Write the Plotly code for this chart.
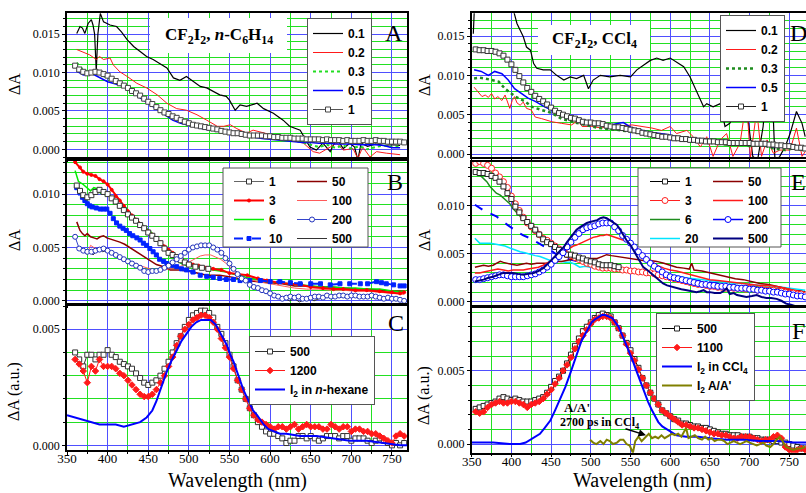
import plotly.graph_objects as go

W, H = 806, 493
def px(x): return x / W
def py(y): return 1 - y / H

# ---------------- DATA (wavelength nm, delta A) ----------------
# Panel A : CF2I2 in n-C6H14, early delays (ps)
A_01 = [(362,0.0151),(366,0.0160),(369,0.0158),(372,0.0151),(376,0.0164),(380,0.0169),(382,0.0162),(384,0.0150),(386,0.0102),(388,0.0150),(391,0.0177),(395,0.0166),(403,0.0162),(411,0.0160),(417,0.0153),(424,0.0143),(432,0.0134),(440,0.0127),(448,0.0121),(456,0.0117),(464,0.0112),(473,0.0106),(481,0.0093),(489,0.0090),(497,0.0095),(506,0.0088),(514,0.0082),(522,0.0080),(530,0.0075),(538,0.0071),(546,0.0069),(550,0.0064),(557,0.0051),(563,0.0058),(571,0.0056),(584,0.0060),(592,0.0053),(604,0.0047),(616,0.0038),(624,0.0030),(637,0.0025),(641,0.0017),(649,0.0003),(657,-0.0001),(665,0.0008),(674,-0.0003),(682,0.0014),(690,0.0001),(698,0.0008),(704,0.0003),(708,-0.0014),(712,0.0008),(720,0.0004),(730,0.0007),(740,0.0005),(750,0.0006),(760,0.0005)]
A_02 = [(362,0.0130),(369,0.0127),(378,0.0123),(386,0.0117),(390,0.0121),(395,0.0117),(403,0.0119),(407,0.0110),(415,0.0101),(424,0.0095),(436,0.0086),(448,0.0080),(461,0.0071),(473,0.0060),(485,0.0053),(497,0.0051),(510,0.0045),(522,0.0038),(535,0.0030),(543,0.0030),(551,0.0032),(559,0.0027),(571,0.0021),(579,0.0025),(590,0.0022),(604,0.0019),(616,0.0015),(629,0.0012),(641,0.0008),(653,-0.0003),(661,-0.0005),(674,0.0003),(682,0.0008),(690,-0.0001),(702,0.0001),(708,-0.0012),(714,0.0003),(723,-0.0010),(731,-0.0003),(743,-0.0005),(760,-0.0007)]
A_03 = [(362,0.0113),(370,0.0103),(380,0.0101),(390,0.0098),(400,0.0093),(410,0.0089),(420,0.0085),(430,0.0078),(440,0.0071),(450,0.0063),(460,0.0055),(470,0.0047),(480,0.0042),(490,0.0037),(500,0.0033),(510,0.0030),(520,0.0028),(530,0.0026),(540,0.0024),(550,0.0022),(560,0.0020),(570,0.0019),(580,0.0017),(590,0.0016),(600,0.0015),(610,0.0014),(620,0.0012),(630,0.0011),(640,0.0009),(650,0.0006),(660,0.0003),(670,0.0006),(680,0.0002),(690,0.0005),(700,0.0001),(710,0.0004),(720,0.0000),(730,0.0003),(740,0.0005),(750,0.0003),(760,0.0004)]
A_05 = [(362,0.0102),(370,0.0097),(380,0.0099),(390,0.0093),(400,0.0088),(410,0.0085),(420,0.0082),(430,0.0076),(440,0.0067),(450,0.0060),(460,0.0053),(470,0.0045),(480,0.0038),(490,0.0034),(500,0.0031),(510,0.0028),(520,0.0026),(530,0.0025),(540,0.0023),(550,0.0021),(560,0.0019),(570,0.0017),(580,0.0015),(590,0.0014),(600,0.0013),(610,0.0012),(620,0.0011),(630,0.0010),(640,0.0009),(650,0.0009),(660,0.0008),(670,0.0008),(680,0.0007),(690,0.0007),(700,0.0007),(710,0.0006),(720,0.0006),(730,0.0006),(740,0.0005),(750,0.0002),(760,0.0002)]
A_1_start = 360
A_1 = [0.0109,0.0104,0.0101,0.0099,0.0100,0.0101,0.0100,0.0098,0.0096,0.0092,0.0089,0.0086,0.0083,0.0080,0.0076,0.0073,0.0070,0.0066,0.0062,0.0059,0.0055,0.0051,0.0048,0.0046,0.0043,0.0041,0.0038,0.0036,0.0034,0.0032,0.0031,0.0030,0.0029,0.0028,0.0027,0.0026,0.0024,0.0023,0.0022,0.0021,0.0021,0.0020,0.0019,0.0018,0.0018,0.0018,0.0018,0.0017,0.0017,0.0016,0.0016,0.0015,0.0015,0.0015,0.0014,0.0014,0.0014,0.0013,0.0013,0.0013,0.0013,0.0012,0.0013,0.0012,0.0012,0.0012,0.0011,0.0012,0.0011,0.0011,0.0011,0.0012,0.0011,0.0011,0.0012,0.0011,0.0011,0.0010,0.0010,0.0010,0.0010,0.0009]

# Panel B : n-C6H14, 1-500 ps
B_1 = [(362,0.0108),(366,0.0103),(370,0.0099),(375,0.0097),(380,0.0099),(385,0.0102),(390,0.0104),(395,0.0102),(400,0.0100),(405,0.0096),(410,0.0093),(415,0.0089),(420,0.0085),(425,0.0081),(430,0.0078),(435,0.0075),(440,0.0071),(445,0.0068),(450,0.0064),(455,0.0061),(460,0.0058),(465,0.0054),(470,0.0049),(475,0.0045),(480,0.0043),(485,0.0041),(490,0.0038),(495,0.0036),(500,0.0034),(508,0.0032),(516,0.0031),(524,0.0030)]
B_3 = [(360,0.0130),(366,0.0125),(370,0.0121),(375,0.0119),(380,0.0118),(385,0.0117),(390,0.0114),(395,0.0112),(400,0.0109),(405,0.0104),(410,0.0098),(415,0.0094),(420,0.0089),(425,0.0084),(430,0.0080),(435,0.0076),(440,0.0072),(445,0.0068),(450,0.0065),(455,0.0062),(460,0.0058),(465,0.0055),(470,0.0051),(475,0.0048),(480,0.0045),(485,0.0042),(490,0.0040),(497,0.0036),(505,0.0034),(512,0.0033),(520,0.0031),(530,0.0030),(540,0.0029),(550,0.0026),(560,0.0025),(572,0.0024),(585,0.0021),(596,0.0019),(610,0.0017),(625,0.0016),(637,0.0015),(650,0.0013),(665,0.0012),(678,0.0011),(690,0.0011),(705,0.0010),(719,0.0010),(735,0.0009),(750,0.0008),(760,0.0007),(765,0.0008)]
B_6 = [(360,0.0122),(364,0.0112),(370,0.0109),(375,0.0106),(379,0.0103),(383,0.0106),(387,0.0105),(391,0.0101),(395,0.0100),(399,0.0099),(403,0.0098),(407,0.0095),(411,0.0091),(415,0.0089),(420,0.0086),(425,0.0082),(430,0.0079),(436,0.0076),(442,0.0072),(448,0.0068),(454,0.0064),(460,0.0059),(466,0.0053),(472,0.0047),(478,0.0042),(485,0.0038),(491,0.0035),(497,0.0033),(505,0.0032),(514,0.0032),(522,0.0030),(530,0.0029),(538,0.0028),(546,0.0027),(555,0.0025),(563,0.0024),(571,0.0022),(584,0.0020),(596,0.0018),(610,0.0017),(625,0.0016),(637,0.0015),(650,0.0014),(665,0.0013),(678,0.0013),(690,0.0012),(705,0.0012),(719,0.0011),(735,0.0011),(750,0.0009),(760,0.0008),(765,0.0009)]
B_10 = [(362,0.0106),(366,0.0101),(369,0.0097),(372,0.0094),(375,0.0091),(378,0.0089),(381,0.0088),(386,0.0087),(391,0.0086),(395,0.0086),(399,0.0086),(403,0.0082),(407,0.0077),(411,0.0073),(415,0.0070),(419,0.0068),(423,0.0066),(427,0.0063),(431,0.0061),(436,0.0059),(440,0.0057),(444,0.0054),(448,0.0052),(452,0.0049),(456,0.0046),(460,0.0043),(464,0.0039),(469,0.0037),(473,0.0035),(479,0.0033),(485,0.0032),(491,0.0030),(497,0.0029),(505,0.0027),(514,0.0024),(522,0.0023),(530,0.0022),(538,0.0021),(546,0.0020),(555,0.0020),(563,0.0019),(575,0.0019),(588,0.0019),(600,0.0018),(612,0.0018),(625,0.0017),(637,0.0016),(650,0.0016),(662,0.0016),(674,0.0015),(686,0.0016),(698,0.0016),(711,0.0016),(720,0.0016),(731,0.0018),(737,0.0017),(743,0.0016),(752,0.0015),(760,0.0014),(765,0.0014)]
B_50 = [(362,0.0074),(364,0.0069),(366,0.0066),(369,0.0063),(372,0.0061),(375,0.0063),(379,0.0060),(383,0.0059),(387,0.0058),(391,0.0060),(395,0.0061),(399,0.0059),(403,0.0058),(409,0.0057),(415,0.0055),(421,0.0053),(427,0.0050),(434,0.0047),(440,0.0044),(446,0.0041),(452,0.0038),(460,0.0034),(469,0.0032),(477,0.0029),(489,0.0029),(505,0.0027),(522,0.0024),(538,0.0024),(555,0.0022),(571,0.0019),(585,0.0018),(600,0.0017),(615,0.0016),(630,0.0014),(645,0.0014),(660,0.0013),(675,0.0013),(690,0.0012),(705,0.0011),(720,0.0011),(735,0.0010),(750,0.0009),(765,0.0009)]
B_100 = [(362,0.0050),(370,0.0048),(376,0.0046),(379,0.0052),(383,0.0050),(390,0.0048),(398,0.0047),(405,0.0044),(412,0.0042),(420,0.0040),(428,0.0037),(436,0.0034),(444,0.0032),(452,0.0030),(460,0.0029),(468,0.0029),(476,0.0030),(484,0.0031),(492,0.0033),(500,0.0036),(506,0.0039),(514,0.0042),(520,0.0043),(527,0.0043),(533,0.0041),(539,0.0039),(546,0.0035),(552,0.0031),(558,0.0027),(565,0.0024),(572,0.0021),(585,0.0018),(600,0.0016),(615,0.0014),(630,0.0012),(645,0.0011),(660,0.0011),(675,0.0010),(690,0.0010),(705,0.0009),(720,0.0009),(735,0.0008),(750,0.0007),(765,0.0006)]
B_200_start = 360
B_200 = [0.0060,0.0049,0.0047,0.0046,0.0046,0.0047,0.0048,0.0049,0.0047,0.0045,0.0043,0.0041,0.0039,0.0037,0.0035,0.0033,0.0031,0.0028,0.0027,0.0028,0.0028,0.0029,0.0031,0.0033,0.0036,0.0039,0.0042,0.0045,0.0048,0.0050,0.0051,0.0052,0.0052,0.0052,0.0050,0.0048,0.0045,0.0040,0.0035,0.0030,0.0025,0.0021,0.0019,0.0015,0.0013,0.0012,0.0010,0.0009,0.0007,0.0005,0.0004,0.0002,0.0003,0.0004,0.0003,0.0004,0.0002,0.0002,0.0003,0.0004,0.0004,0.0003,0.0005,0.0004,0.0004,0.0005,0.0005,0.0004,0.0005,0.0005,0.0004,0.0004,0.0004,0.0005,0.0004,0.0003,0.0002,0.0003,0.0002,0.0002,0.0001,0.0000]
B_500 = [(362,0.0050),(366,0.0048),(370,0.0046),(374,0.0044),(378,0.0047),(382,0.0043),(386,0.0046),(390,0.0048),(394,0.0046),(398,0.0047),(403,0.0045),(408,0.0043),(414,0.0041),(420,0.0038),(426,0.0036),(432,0.0034),(438,0.0031),(444,0.0029),(450,0.0027),(456,0.0027),(462,0.0028),(468,0.0030),(474,0.0033),(480,0.0036),(486,0.0039),(492,0.0043),(498,0.0046),(504,0.0049),(510,0.0051),(516,0.0052),(522,0.0051),(528,0.0050),(534,0.0048),(540,0.0045),(546,0.0041),(552,0.0033),(558,0.0028),(564,0.0023),(570,0.0019),(576,0.0015),(582,0.0012),(588,0.0011),(594,0.0008),(600,0.0007),(606,0.0005),(612,0.0004),(618,0.0002),(624,0.0000),(630,0.0002),(636,-0.0001),(642,0.0001),(648,0.0003),(654,0.0000),(660,0.0002),(668,0.0003),(676,0.0004),(684,0.0005),(692,0.0004),(700,0.0005),(710,0.0004),(720,0.0004),(730,0.0004),(740,0.0003),(750,0.0002),(760,0.0001),(765,0.0001)]

# Panel C : n-C6H14, long delays + I2 reference
C_500_start = 360
C_500 = [0.0040,0.0037,0.0034,0.0039,0.0039,0.0037,0.0039,0.0039,0.0041,0.0039,0.0038,0.0036,0.0035,0.0034,0.0033,0.0031,0.0029,0.0027,0.0026,0.0027,0.0028,0.0030,0.0033,0.0036,0.0040,0.0044,0.0047,0.0051,0.0054,0.0056,0.0057,0.0058,0.0058,0.0057,0.0055,0.0051,0.0048,0.0044,0.0039,0.0034,0.0028,0.0024,0.0020,0.0016,0.0013,0.0010,0.0008,0.0006,0.0005,0.0005,0.0004,0.0003,0.0001,0.0002,0.0002,0.0004,0.0004,0.0003,0.0004,0.0003,0.0002,0.0003,0.0004,0.0004,0.0004,0.0003,0.0004,0.0004,0.0002,0.0003,0.0003,0.0003,0.0002,0.0001,0.0002,0.0003,0.0002,0.0001,0.0000,0.0001,0.0000,0.0001]
C_1200_start = 360
C_1200 = [0.0037,0.0035,0.0032,0.0027,0.0034,0.0032,0.0037,0.0034,0.0034,0.0034,0.0033,0.0031,0.0030,0.0028,0.0026,0.0024,0.0022,0.0021,0.0021,0.0022,0.0024,0.0027,0.0030,0.0034,0.0038,0.0043,0.0047,0.0050,0.0052,0.0054,0.0055,0.0056,0.0056,0.0055,0.0053,0.0050,0.0046,0.0042,0.0038,0.0033,0.0028,0.0024,0.0020,0.0016,0.0013,0.0011,0.0010,0.0009,0.0008,0.0007,0.0008,0.0008,0.0007,0.0008,0.0009,0.0007,0.0008,0.0009,0.0008,0.0008,0.0008,0.0007,0.0007,0.0009,0.0008,0.0007,0.0008,0.0008,0.0006,0.0007,0.0007,0.0006,0.0006,0.0005,0.0005,0.0004,0.0003,0.0002,0.0001,0.0004,0.0005,0.0004]
C_I2 = [(350,0.0013),(360,0.0012),(370,0.0011),(380,0.0010),(390,0.0009),(400,0.0009),(410,0.0009),(420,0.0008),(430,0.0009),(440,0.0010),(448,0.0012),(455,0.0015),(460,0.0019),(466,0.0025),(472,0.0031),(478,0.0036),(485,0.0041),(491,0.0045),(497,0.0048),(503,0.0051),(509,0.0053),(515,0.0054),(521,0.0054),(527,0.0054),(533,0.0052),(538,0.0049),(543,0.0046),(547,0.0043),(551,0.0039),(555,0.0036),(559,0.0032),(563,0.0028),(567,0.0024),(571,0.0021),(575,0.0018),(579,0.0015),(584,0.0013),(588,0.0011),(592,0.0009),(598,0.0007),(604,0.0006),(612,0.0005),(620,0.0005),(637,0.0004),(657,0.0004),(678,0.0003),(698,0.0002),(719,0.0002),(740,0.0001),(760,0.0000),(770,0.0000)]

# Panel D : CF2I2 in CCl4, early delays (ps)
D_01 = [(352,0.0153),(354,0.0200),(398,0.0200),(403,0.0179),(407,0.0166),(415,0.0149),(419,0.0136),(424,0.0132),(428,0.0115),(432,0.0109),(440,0.0107),(449,0.0107),(457,0.0100),(466,0.0094),(474,0.0098),(482,0.0096),(491,0.0100),(497,0.0083),(503,0.0094),(512,0.0100),(524,0.0098),(537,0.0100),(550,0.0098),(558,0.0107),(566,0.0113),(575,0.0119),(583,0.0122),(591,0.0119),(600,0.0122),(608,0.0117),(617,0.0111),(625,0.0098),(633,0.0081),(642,0.0060),(646,0.0064),(654,0.0060),(663,0.0064),(669,0.0035),(675,0.0039),(684,0.0056),(692,0.0071),(698,0.0043),(704,-0.0003),(710,-0.0008),(717,0.0035),(722,0.0090),(727,0.0120),(732,-0.0010),(738,-0.0003),(745,0.0010),(751,0.0026),(759,0.0054),(766,0.0039),(770,0.0022)]
D_02 = [(353,0.0085),(358,0.0079),(363,0.0073),(367,0.0075),(371,0.0072),(375,0.0077),(379,0.0070),(383,0.0073),(388,0.0068),(392,0.0075),(395,0.0066),(398,0.0058),(401,0.0068),(404,0.0073),(407,0.0065),(411,0.0062),(415,0.0066),(419,0.0058),(425,0.0056),(430,0.0047),(438,0.0045),(451,0.0041),(463,0.0039),(476,0.0037),(484,0.0043),(489,0.0035),(501,0.0035),(514,0.0033),(522,0.0037),(535,0.0035),(552,0.0037),(564,0.0035),(577,0.0033),(589,0.0030),(600,0.0035),(608,0.0026),(621,0.0030),(629,0.0022),(638,0.0009),(646,0.0022),(654,-0.0003),(663,0.0018),(671,0.0026),(679,-0.0003),(688,0.0014),(696,0.0069),(701,-0.0005),(709,0.0056),(715,-0.0003),(722,0.0018),(730,0.0001),(738,0.0005),(751,0.0005),(759,0.0033),(766,-0.0003),(770,0.0003)]
D_03 = [(353,0.0096),(360,0.0097),(367,0.0096),(375,0.0094),(384,0.0092),(392,0.0083),(405,0.0073),(417,0.0067),(426,0.0060),(438,0.0056),(451,0.0052),(463,0.0045),(476,0.0041),(493,0.0037),(510,0.0033),(531,0.0031),(552,0.0028),(573,0.0026),(594,0.0022),(610,0.0020),(625,0.0018),(640,0.0016),(655,0.0015),(670,0.0012),(685,0.0014),(700,0.0010),(715,0.0012),(730,0.0007),(745,0.0005),(758,0.0008),(770,0.0004)]
D_05 = [(353,0.0107),(362,0.0105),(371,0.0100),(379,0.0105),(388,0.0102),(396,0.0094),(404,0.0083),(413,0.0077),(421,0.0071),(430,0.0067),(442,0.0060),(455,0.0054),(468,0.0047),(480,0.0043),(493,0.0039),(510,0.0037),(525,0.0037),(535,0.0039),(541,0.0040),(552,0.0033),(573,0.0028),(594,0.0025),(608,0.0022),(630,0.0020),(650,0.0018),(670,0.0016),(692,0.0014),(717,0.0011),(734,0.0009),(750,0.0009),(770,0.0009)]
D_1_start = 355
D_1 = [0.0133,0.0132,0.0132,0.0131,0.0131,0.0130,0.0128,0.0125,0.0120,0.0114,0.0107,0.0099,0.0091,0.0084,0.0079,0.0074,0.0070,0.0067,0.0063,0.0059,0.0055,0.0052,0.0050,0.0048,0.0046,0.0045,0.0043,0.0041,0.0040,0.0040,0.0039,0.0039,0.0038,0.0036,0.0035,0.0034,0.0034,0.0033,0.0032,0.0031,0.0030,0.0029,0.0027,0.0026,0.0025,0.0024,0.0023,0.0022,0.0022,0.0021,0.0020,0.0020,0.0019,0.0019,0.0018,0.0018,0.0017,0.0017,0.0016,0.0016,0.0016,0.0015,0.0015,0.0015,0.0014,0.0014,0.0014,0.0014,0.0014,0.0014,0.0013,0.0013,0.0013,0.0013,0.0012,0.0012,0.0011,0.0011,0.0010,0.0010,0.0009,0.0008,0.0008,0.0007]

# Panel E : CCl4, 1-500 ps
E_1_start = 355
E_1 = [0.0135,0.0134,0.0134,0.0133,0.0131,0.0129,0.0125,0.0120,0.0113,0.0107,0.0099,0.0093,0.0087,0.0083,0.0079,0.0075,0.0070,0.0065,0.0062,0.0060,0.0057,0.0054,0.0051,0.0049,0.0049,0.0048,0.0046,0.0045,0.0043,0.0042,0.0041,0.0039,0.0038,0.0038,0.0038,0.0037,0.0036]
E_3_start = 355
E_3 = [0.0144,0.0146,0.0144,0.0142,0.0139,0.0134,0.0130,0.0125,0.0119,0.0110,0.0102,0.0095,0.0088,0.0082,0.0078,0.0074,0.0070,0.0066,0.0064,0.0061,0.0058,0.0055,0.0052,0.0049,0.0048,0.0046,0.0044,0.0042,0.0040,0.0039,0.0037,0.0036,0.0035,0.0035,0.0035,0.0034,0.0034,0.0033,0.0033,0.0032,0.0032,0.0031,0.0031,0.0030,0.0030,0.0029,0.0028,0.0027,0.0026,0.0025,0.0024,0.0023,0.0022,0.0021,0.0020,0.0019,0.0018,0.0018,0.0017,0.0016,0.0016,0.0015,0.0015,0.0014,0.0015,0.0014,0.0014,0.0014,0.0013,0.0014,0.0013,0.0012,0.0013,0.0012,0.0012,0.0012,0.0011,0.0011,0.0010,0.0009,0.0009,0.0008,0.0008,0.0007]
E_6 = [(354,0.0137),(360,0.0132),(365,0.0128),(369,0.0125),(373,0.0120),(377,0.0116),(381,0.0113),(386,0.0111),(390,0.0108),(394,0.0106),(398,0.0102),(402,0.0097),(406,0.0093),(411,0.0089),(415,0.0086),(419,0.0082),(423,0.0078),(428,0.0073),(432,0.0070),(436,0.0068),(440,0.0066),(444,0.0064),(449,0.0061),(453,0.0059),(457,0.0057),(461,0.0054),(465,0.0052),(470,0.0049),(474,0.0047),(478,0.0045),(484,0.0044),(491,0.0042),(499,0.0040),(508,0.0038),(516,0.0037),(524,0.0036),(535,0.0034),(545,0.0033),(556,0.0032),(566,0.0031),(577,0.0030),(587,0.0028),(598,0.0026),(608,0.0024),(619,0.0022),(629,0.0021),(640,0.0020),(650,0.0019),(661,0.0018),(671,0.0017),(682,0.0017),(692,0.0016),(703,0.0016),(713,0.0015),(724,0.0015),(734,0.0014),(745,0.0013),(755,0.0012),(765,0.0011),(770,0.0010)]
E_10 = [(354,0.0101),(360,0.0098),(365,0.0095),(373,0.0092),(381,0.0089),(390,0.0083),(398,0.0078),(407,0.0073),(415,0.0069),(424,0.0066),(432,0.0062),(440,0.0058),(449,0.0054),(457,0.0049),(465,0.0046),(474,0.0044),(484,0.0042),(495,0.0040),(505,0.0038),(516,0.0036),(527,0.0035),(540,0.0034),(555,0.0032),(570,0.0031),(585,0.0029),(600,0.0027),(620,0.0024),(640,0.0021),(660,0.0019),(680,0.0017),(700,0.0016),(720,0.0014),(740,0.0013),(755,0.0012),(770,0.0010)]
E_20 = [(354,0.0066),(357,0.0063),(360,0.0061),(366,0.0061),(373,0.0061),(379,0.0060),(386,0.0059),(392,0.0058),(398,0.0056),(404,0.0054),(411,0.0052),(417,0.0051),(424,0.0049),(430,0.0048),(436,0.0047),(442,0.0045),(449,0.0043),(455,0.0043),(461,0.0042),(468,0.0041),(474,0.0041),(480,0.0039),(486,0.0036),(493,0.0037),(499,0.0036),(507,0.0035),(516,0.0035),(524,0.0034),(533,0.0033),(541,0.0033),(550,0.0032),(558,0.0032),(566,0.0031),(577,0.0031),(587,0.0030),(598,0.0028),(608,0.0027),(619,0.0025),(629,0.0024),(640,0.0023),(650,0.0022),(661,0.0021),(671,0.0020),(682,0.0019),(692,0.0019),(703,0.0018),(713,0.0017),(724,0.0017),(734,0.0016),(745,0.0015),(755,0.0014),(765,0.0013),(770,0.0012)]
E_50 = [(354,0.0036),(360,0.0037),(365,0.0038),(371,0.0037),(377,0.0038),(381,0.0040),(386,0.0042),(390,0.0041),(394,0.0040),(400,0.0039),(407,0.0038),(413,0.0039),(419,0.0040),(425,0.0039),(432,0.0040),(438,0.0040),(444,0.0040),(450,0.0041),(457,0.0042),(463,0.0042),(470,0.0043),(476,0.0044),(482,0.0045),(488,0.0045),(495,0.0045),(501,0.0045),(508,0.0045),(514,0.0047),(520,0.0049),(526,0.0048),(533,0.0047),(541,0.0046),(550,0.0045),(558,0.0044),(566,0.0043),(575,0.0043),(583,0.0042),(592,0.0040),(600,0.0038),(608,0.0036),(617,0.0035),(624,0.0034),(627,0.0040),(630,0.0033),(640,0.0032),(650,0.0030),(660,0.0028),(671,0.0026),(682,0.0024),(692,0.0023),(703,0.0021),(713,0.0019),(724,0.0018),(734,0.0016),(745,0.0014),(755,0.0012),(765,0.0011),(770,0.0010)]
E_100 = [(354,0.0030),(360,0.0030),(365,0.0031),(371,0.0032),(377,0.0033),(383,0.0034),(390,0.0033),(396,0.0032),(402,0.0033),(408,0.0033),(415,0.0033),(421,0.0034),(428,0.0035),(434,0.0036),(440,0.0038),(444,0.0040),(449,0.0042),(453,0.0044),(457,0.0047),(461,0.0049),(466,0.0051),(470,0.0054),(474,0.0056),(478,0.0058),(482,0.0059),(487,0.0061),(491,0.0062),(495,0.0064),(499,0.0066),(503,0.0067),(508,0.0068),(512,0.0069),(516,0.0069),(520,0.0070),(524,0.0069),(528,0.0068),(533,0.0066),(537,0.0065),(541,0.0064),(545,0.0063),(550,0.0061),(554,0.0059),(558,0.0056),(562,0.0052),(566,0.0049),(571,0.0046),(575,0.0043),(579,0.0040),(583,0.0038),(592,0.0035),(600,0.0033),(608,0.0032),(617,0.0030),(625,0.0028),(633,0.0026),(641,0.0025),(650,0.0023),(660,0.0022),(671,0.0021),(682,0.0020),(692,0.0019),(703,0.0018),(713,0.0017),(724,0.0017),(734,0.0016),(745,0.0014),(755,0.0012),(765,0.0010),(770,0.0009)]
E_200_start = 355
E_200 = [0.0023,0.0023,0.0024,0.0025,0.0026,0.0027,0.0028,0.0028,0.0027,0.0026,0.0026,0.0026,0.0026,0.0027,0.0028,0.0029,0.0031,0.0033,0.0036,0.0039,0.0043,0.0047,0.0051,0.0057,0.0062,0.0067,0.0071,0.0075,0.0077,0.0078,0.0079,0.0081,0.0082,0.0082,0.0082,0.0078,0.0074,0.0069,0.0065,0.0061,0.0057,0.0052,0.0048,0.0044,0.0040,0.0037,0.0034,0.0031,0.0028,0.0026,0.0025,0.0024,0.0023,0.0022,0.0021,0.0020,0.0019,0.0018,0.0018,0.0017,0.0017,0.0016,0.0016,0.0016,0.0015,0.0015,0.0014,0.0014,0.0014,0.0013,0.0013,0.0012,0.0012,0.0011,0.0011,0.0010,0.0010,0.0009,0.0008,0.0008,0.0007,0.0006,0.0006,0.0005]
E_500 = [(354,0.0021),(360,0.0022),(365,0.0023),(371,0.0025),(377,0.0026),(383,0.0028),(390,0.0030),(396,0.0030),(402,0.0030),(408,0.0029),(415,0.0028),(421,0.0029),(428,0.0030),(434,0.0032),(440,0.0035),(444,0.0038),(449,0.0042),(453,0.0046),(457,0.0049),(461,0.0053),(466,0.0057),(470,0.0062),(474,0.0066),(478,0.0071),(482,0.0075),(487,0.0078),(491,0.0080),(495,0.0082),(499,0.0083),(503,0.0084),(508,0.0085),(512,0.0087),(516,0.0088),(520,0.0087),(524,0.0085),(528,0.0083),(533,0.0080),(537,0.0075),(541,0.0069),(545,0.0064),(550,0.0059),(554,0.0053),(558,0.0047),(562,0.0041),(566,0.0036),(571,0.0033),(575,0.0030),(579,0.0027),(583,0.0024),(587,0.0021),(591,0.0019),(596,0.0017),(600,0.0016),(604,0.0015),(608,0.0014),(614,0.0013),(621,0.0012),(627,0.0011),(633,0.0010),(638,0.0011),(642,0.0012),(646,0.0010),(650,0.0010),(656,0.0009),(663,0.0009),(667,0.0011),(671,0.0014),(675,0.0008),(680,0.0009),(684,0.0007),(690,0.0006),(696,0.0005),(703,0.0006),(709,0.0007),(715,0.0005),(721,0.0004),(727,0.0004),(734,0.0003),(740,0.0001),(746,-0.0002),(752,-0.0003),(759,-0.0005)]

# Panel F : CCl4, long delays + I2 references
F_500_start = 355
F_500 = [0.0024,0.0025,0.0026,0.0027,0.0028,0.0029,0.0031,0.0032,0.0031,0.0030,0.0031,0.0030,0.0029,0.0029,0.0029,0.0030,0.0031,0.0032,0.0035,0.0039,0.0043,0.0046,0.0050,0.0055,0.0061,0.0067,0.0072,0.0077,0.0080,0.0083,0.0086,0.0088,0.0089,0.0088,0.0087,0.0083,0.0079,0.0074,0.0069,0.0064,0.0058,0.0052,0.0045,0.0040,0.0035,0.0031,0.0027,0.0023,0.0021,0.0019,0.0017,0.0016,0.0014,0.0014,0.0013,0.0012,0.0012,0.0011,0.0011,0.0010,0.0009,0.0008,0.0007,0.0007,0.0006,0.0006,0.0006,0.0005,0.0005,0.0005,0.0004,0.0004,0.0003,0.0003,0.0003,0.0002,0.0002,0.0001,0.0001,0.0000,-0.0001,-0.0002,-0.0003,-0.0003]
F_1100_start = 355
F_1100 = [0.0022,0.0021,0.0022,0.0025,0.0027,0.0028,0.0029,0.0028,0.0028,0.0029,0.0029,0.0028,0.0027,0.0025,0.0027,0.0028,0.0029,0.0031,0.0034,0.0037,0.0041,0.0045,0.0050,0.0054,0.0059,0.0065,0.0070,0.0074,0.0078,0.0082,0.0085,0.0086,0.0087,0.0087,0.0086,0.0083,0.0079,0.0074,0.0068,0.0062,0.0057,0.0051,0.0045,0.0040,0.0035,0.0031,0.0027,0.0023,0.0021,0.0019,0.0017,0.0015,0.0013,0.0013,0.0012,0.0011,0.0011,0.0010,0.0009,0.0008,0.0007,0.0007,0.0006,0.0006,0.0005,0.0004,0.0004,0.0005,0.0005,0.0005,0.0004,0.0003,0.0002,0.0003,0.0003,0.0005,0.0006,0.0004,-0.0002,-0.0004,-0.0005,-0.0004,-0.0003,-0.0004]
F_I2 = [(350,0.0001),(377,0.0001),(398,0.0000),(411,0.0000),(418,0.0001),(424,0.0003),(430,0.0005),(436,0.0007),(442,0.0011),(449,0.0016),(455,0.0023),(461,0.0030),(468,0.0039),(474,0.0048),(479,0.0056),(484,0.0064),(488,0.0070),(493,0.0075),(497,0.0079),(501,0.0083),(505,0.0085),(510,0.0087),(514,0.0088),(518,0.0088),(522,0.0087),(527,0.0086),(531,0.0083),(535,0.0080),(539,0.0075),(543,0.0070),(547,0.0064),(552,0.0058),(556,0.0052),(560,0.0046),(564,0.0040),(568,0.0035),(572,0.0029),(577,0.0023),(581,0.0019),(585,0.0015),(590,0.0012),(596,0.0010),(602,0.0008),(608,0.0006),(620,0.0005),(635,0.0005),(650,0.0004),(671,0.0003),(692,0.0003),(713,0.0002),(734,0.0002),(755,0.0001),(771,0.0001)]
F_AA = [(499,0.0003),(503,0.0001),(507,0.0000),(512,0.0002),(516,0.0000),(520,0.0003),(524,0.0002),(528,0.0000),(533,0.0001),(537,0.0003),(541,0.0003),(545,0.0000),(549,-0.0001),(553,-0.0006),(556,0.0002),(560,0.0005),(564,0.0002),(568,0.0004),(573,0.0007),(577,0.0004),(581,0.0005),(585,0.0004),(589,0.0006),(593,0.0004),(598,0.0006),(602,0.0007),(606,0.0006),(610,0.0007),(614,0.0005),(617,0.0008),(620,0.0011),(623,0.0004),(627,0.0005),(631,0.0006),(635,0.0004),(640,0.0003),(644,0.0005),(648,0.0003),(652,0.0004),(656,0.0002),(660,0.0003),(664,0.0003),(668,0.0002),(672,0.0000),(676,0.0001),(680,0.0002),(684,0.0001),(688,0.0000),(692,0.0001),(696,0.0002),(700,0.0001),(705,0.0000),(709,-0.0001),(713,0.0000),(717,0.0001),(721,-0.0001),(726,-0.0002),(730,0.0000),(734,0.0003),(738,0.0005),(742,0.0001),(746,-0.0002),(750,-0.0003),(755,-0.0004),(760,-0.0003),(765,-0.0003),(770,-0.0002)]

X_TICKS = [350, 400, 450, 500, 550, 600, 650, 700, 750]
Y_TICKS = [0.0, 0.005, 0.010, 0.015]

# ---------------- STYLE ----------------
BLUE_GRID = "#4f4fff"
GREEN_GRID = "#22e022"
SERIF = "Liberation Serif"
SANS = "Liberation Sans"

fig = go.Figure()

def pairs(p):
    return [a for a, b in p], [b for a, b in p]

def grid(start, vals):
    return [start + 5 * i for i in range(len(vals))]

def add(panel, x, y, name, legend, rank, color, width=1.0, dash="solid",
        msym=None, msize=5, mfill=None, mline=None, showlegend=True):
    ax = "" if panel == 1 else str(panel)
    kw = dict(x=x, y=y, name=name, legend=legend, legendrank=rank, showlegend=showlegend,
              xaxis="x" + ax, yaxis="y" + ax, hoverinfo="skip",
              line=dict(color=color, width=width, dash=dash))
    if msym:
        kw["mode"] = "lines+markers"
        kw["marker"] = dict(symbol=msym, size=msize,
                            color=mfill if mfill else color,
                            line=dict(color=mline if mline else color, width=1))
    else:
        kw["mode"] = "lines"
    fig.add_trace(go.Scatter(**kw))

# Panel A (1)
add(1, *pairs(A_01), "0.1", "legend", 1, "#000000", 1.2)
add(1, *pairs(A_02), "0.2", "legend", 2, "#ff1a1a", 1.0)
add(1, *pairs(A_03), "0.3", "legend", 3, "#22dd22", 2.0, "dot")
add(1, *pairs(A_05), "0.5", "legend", 4, "#0000ff", 1.5)
add(1, grid(A_1_start, A_1), A_1, "1", "legend", 5, "#555555", 1.0, msym="square", msize=5, mfill="white", mline="#444444")

# Panel D (4)
add(4, *pairs(D_01), "0.1", "legend2", 1, "#000000", 1.2)
add(4, *pairs(D_02), "0.2", "legend2", 2, "#ff1a1a", 1.0)
add(4, *pairs(D_03), "0.3", "legend2", 3, "#1e8c1e", 2.5, "dot")
add(4, *pairs(D_05), "0.5", "legend2", 4, "#0000ff", 1.5)
add(4, grid(D_1_start, D_1), D_1, "1", "legend2", 5, "#222222", 1.0, msym="square", msize=5, mfill="white", mline="#333333")

# Panel B (2)
add(2, *pairs(B_50), "50", "legend4", 1, "#8b0000", 1.5)
add(2, *pairs(B_100), "100", "legend4", 2, "#ff5a5a", 1.0)
add(2, *pairs(B_6), "6", "legend3", 3, "#00ee00", 1.5)
add(2, *pairs(B_3), "3", "legend3", 2, "#ff0000", 2.0, msym="circle", msize=3)
add(2, *pairs(B_10), "10", "legend3", 4, "#0022ff", 2.0, "dash", msym="square", msize=4)
add(2, *pairs(B_1), "1", "legend3", 1, "#666666", 1.0, msym="square", msize=5, mfill="white", mline="#333333")
add(2, *pairs(B_500), "500", "legend4", 4, "#333333", 1.0)
add(2, grid(B_200_start, B_200), B_200, "200", "legend4", 3, "#3344cc", 1.0, msym="circle", msize=5, mfill="white", mline="#2233bb")

# Panel C (3)
add(3, grid(C_500_start, C_500), C_500, "500", "legend5", 1, "#333333", 1.0, msym="square", msize=5, mfill="white", mline="#333333")
add(3, grid(C_1200_start, C_1200), C_1200, "1200", "legend5", 2, "#ff1a1a", 1.0, msym="diamond", msize=5)
add(3, *pairs(C_I2), "I<sub>2</sub> in <i>n</i>-hexane", "legend5", 3, "#0000ff", 2.0)

# Panel E (5)
add(5, *pairs(E_10), "10", "legend6", 9, "#0000ff", 2.0, "dash", showlegend=False)
add(5, *pairs(E_20), "20", "legend6", 4, "#00e5ff", 1.5)
add(5, *pairs(E_6), "6", "legend6", 3, "#1e8c1e", 1.5)
add(5, *pairs(E_50), "50", "legend7", 1, "#8b0000", 1.5)
add(5, *pairs(E_100), "100", "legend7", 2, "#ff1a1a", 1.5)
add(5, grid(E_3_start, E_3), E_3, "3", "legend6", 2, "#ff2020", 1.0, msym="circle", msize=6, mfill="white", mline="#ff2020")
add(5, grid(E_1_start, E_1), E_1, "1", "legend6", 1, "#000000", 1.0, msym="square", msize=5, mfill="white", mline="#222222")
add(5, grid(E_200_start, E_200), E_200, "200", "legend7", 3, "#0000ff", 1.5, msym="circle", msize=6, mfill="white", mline="#0000ff")
add(5, *pairs(E_500), "500", "legend7", 4, "#000080", 2.0)

# Panel F (6)
add(6, grid(F_500_start, F_500), F_500, "500", "legend8", 1, "#000000", 1.0, msym="square", msize=5, mfill="white", mline="#222222")
add(6, grid(F_1100_start, F_1100), F_1100, "1100", "legend8", 2, "#ff1a1a", 1.0, msym="diamond", msize=5)
add(6, *pairs(F_I2), "I<sub>2</sub> in CCl<sub>4</sub>", "legend8", 3, "#0000ff", 2.0)
add(6, *pairs(F_AA), "I<sub>2</sub> A/A'", "legend8", 4, "#808000", 2.0)

# ---------------- AXES ----------------
LX = [px(67), px(407)]
RX = [px(471.7), 1.0]
panels = {
    1: (LX, [py(157), py(12.7)], [-0.001, 0.0178], [350, 768.5], False),
    2: (LX, [py(303), py(161)], [-0.0002, 0.0131], [350, 768.5], False),
    3: (LX, [py(450), py(306)], [-0.0002, 0.0060], [350, 768.5], True),
    4: (RX, [py(157), py(13.3)], [-0.00038, 0.01789], [350, 771], False),
    5: (RX, [py(305), py(161.7)], [-0.00034, 0.01458], [350, 771], False),
    6: (RX, [py(452.7), py(308.3)], [-0.00059, 0.00926], [350, 771], True),
}
lay = {}
for i, (xd, yd, yr, xr, showx) in panels.items():
    s = "" if i == 1 else str(i)
    lay["xaxis" + s] = dict(
        domain=xd, range=xr, anchor="y" + s, tickvals=X_TICKS,
        showticklabels=showx, tickfont=dict(family=SERIF, size=13, color="black"),
        ticklabelstandoff=-7,
        showgrid=True, gridcolor=BLUE_GRID, gridwidth=1,
        minor=dict(dtick=25, tick0=350, showgrid=True, gridcolor=GREEN_GRID, gridwidth=1,
                   ticks="outside", ticklen=2, tickcolor="black"),
        showline=True, linecolor="black", linewidth=1.5, mirror=True,
        ticks="outside", ticklen=3, tickcolor="black", zeroline=False)
    lay["yaxis" + s] = dict(
        domain=yd, range=yr, anchor="x" + s, tickvals=Y_TICKS, tickformat=".3f",
        tickfont=dict(family=SERIF, size=12, color="black"),
        showgrid=True, gridcolor=BLUE_GRID, gridwidth=1,
        minor=dict(dtick=0.001, tick0=0, showgrid=True, gridcolor=GREEN_GRID, gridwidth=1,
                   ticks="outside", ticklen=2, tickcolor="black"),
        showline=True, linecolor="black", linewidth=1.5, mirror=True,
        ticks="outside", ticklen=3, tickcolor="black", zeroline=False)

LEGFONT = dict(family=SANS, size=12, color="black", weight="bold")
def leg(x, y, boxed=True):
    d = dict(x=px(x), y=py(y), xanchor="left", yanchor="top", font=LEGFONT,
             itemwidth=30, tracegroupgap=0, traceorder="normal")
    if boxed:
        d.update(bgcolor="white", bordercolor="#555555", borderwidth=1)
    else:
        d.update(bgcolor="rgba(0,0,0,0)", borderwidth=0)
    return d

lay["legend"] = leg(307, 18)
lay["legend2"] = leg(720, 15)
lay["legend3"] = leg(229, 167, False)
lay["legend4"] = leg(292, 167, False)
lay["legend5"] = leg(249, 336)
lay["legend6"] = leg(645, 167, False)
lay["legend7"] = leg(708, 167, False)
lay["legend8"] = leg(656, 313)

shapes = [
    dict(type="rect", xref="paper", yref="paper", x0=px(223), x1=px(368), y0=py(247), y1=py(168),
         fillcolor="white", line=dict(color="#555555", width=1), layer="above"),
    dict(type="rect", xref="paper", yref="paper", x0=px(638), x1=px(781), y0=py(247), y1=py(168),
         fillcolor="white", line=dict(color="#555555", width=1), layer="above"),
    dict(type="rect", xref="paper", yref="paper", x0=px(150), x1=px(287), y0=py(53), y1=py(18),
         fillcolor="white", line=dict(width=0), layer="above"),
    dict(type="rect", xref="paper", yref="paper", x0=px(538), x1=px(650), y0=py(55), y1=py(25),
         fillcolor="white", line=dict(width=0), layer="above"),
]

ann = []
def txt(x, y, t, size, family=SERIF, angle=0, xanchor="center"):
    ann.append(dict(x=px(x), y=py(y), xref="paper", yref="paper", text=t, showarrow=False,
                    font=dict(family=family, size=size, color="black"), textangle=angle,
                    xanchor=xanchor, yanchor="middle"))

for lab, (x, y) in {"A": (394, 33), "B": (395, 182), "C": (396, 323),
                    "D": (798, 33), "E": (798, 182), "F": (798, 331)}.items():
    txt(x, y, lab, 24)
for x, y, t in [(14, 84, "ΔA"), (14, 240, "ΔA"), (14, 392, "ΔA (a.u.)"),
                (424, 85, "ΔA"), (424, 240, "ΔA"), (424, 396, "ΔA (a.u.)")]:
    txt(x, y, t, 16, angle=-90)
txt(237, 480.5, "Wavelength (nm)", 20)
txt(642, 480.5, "Wavelength (nm)", 20)
txt(219, 36, "<b>CF<sub>2</sub>I<sub>2</sub>, <i>n</i>-C<sub>6</sub>H<sub>14</sub></b>", 17)
txt(594, 40, "<b>CF<sub>2</sub>I<sub>2</sub>, CCl<sub>4</sub></b>", 17)
txt(577, 407, "<b>A/A'</b>", 13)
txt(600, 423, "<b>2700 ps in CCl<sub>4</sub></b>", 12)
ann.append(dict(x=569.5, y=0.0006, xref="x6", yref="y6", text="", showarrow=True,
                ax=-22, ay=-7, arrowhead=2, arrowsize=1, arrowwidth=1.5, arrowcolor="black"))

fig.update_layout(width=W, height=H,
                  margin=dict(l=0, r=0, t=0, b=0, autoexpand=False),
                  paper_bgcolor="white", plot_bgcolor="white",
                  shapes=shapes, annotations=ann, **lay)
fig.write_html("out.html", config={"displayModeBar": False},
               post_script="document.body.style.margin='0';document.body.style.padding='0';"
                           "document.body.style.overflow='hidden';")
